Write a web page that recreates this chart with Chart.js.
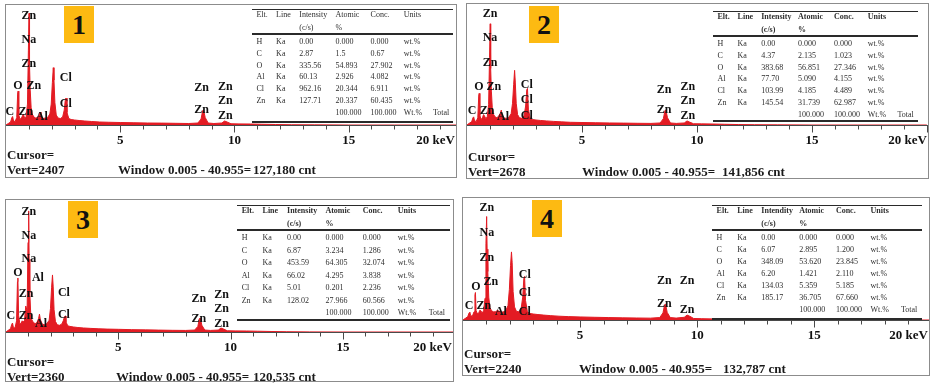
<!DOCTYPE html>
<html>
<head>
<meta charset="utf-8">
<script src="https://cdn.jsdelivr.net/npm/chart.js@4.4.0/dist/chart.umd.min.js"></script>
<style>
  body { margin: 0; background: #fff; width: 932px; height: 386px; position: relative; overflow: hidden; font-family: "Liberation Serif", serif; }
  .panel { position: absolute; border: 1px solid #8c8c8c; box-sizing: border-box; }
  .plot { position: absolute; left: 0; top: 0; }
  .badge { position: absolute; width: 30px; height: 37px; background: #fdba12; color: #111; font: bold 28px "Liberation Serif", serif; text-align: center; line-height: 38px; }
  .txt { position: absolute; font: bold 13px "Liberation Serif", serif; color: #1a1a1a; line-height: 14px; white-space: pre; }
  .tbl { position: absolute; box-sizing: border-box; border-top: 1.5px solid #2a2a2a; border-bottom: 2px solid #2a2a2a; font: 8px "Liberation Serif", serif; color: #2e2e2e; }
  .tbl .sep { position: absolute; left: 0; right: 0; top: 23px; border-top: 2px solid #2a2a2a; }
  .tbl span { position: absolute; line-height: 10px; white-space: pre; }
  .tbl .hd { font-weight: bold; }
</style>
</head>
<body>
<script>
// energy grid (keV) shared by all four spectra
const energy = [0.00, 0.10, 0.20, 0.26, 0.29, 0.33, 0.40, 0.47, 0.51, 0.53,
  0.56, 0.62, 0.68, 0.72, 0.76, 0.82, 0.88, 0.94, 0.98, 1.01,
  1.03, 1.06, 1.10, 1.15, 1.22, 1.30, 1.38, 1.45, 1.49, 1.53,
  1.62, 1.72, 1.82, 1.92, 1.98, 2.03, 2.07, 2.10, 2.14, 2.20,
  2.28, 2.38, 2.48, 2.55, 2.60, 2.63, 2.67, 2.75, 2.85, 3.00,
  3.20, 3.45, 3.75, 4.10, 4.50, 5.00, 5.60, 6.20, 6.80, 7.40,
  8.00, 8.40, 8.54, 8.61, 8.65, 8.72, 8.85, 9.10, 9.45, 9.57,
  9.68, 9.85, 10.2, 10.7, 11.2, 11.8, 12.5, 13.5, 15.0, 17.0, 20.0];

// counts per channel
const counts1 = [0, 30, 60, 150, 170, 80, 70, 150, 620, 680,
  200, 110, 150, 180, 220, 130, 160, 420, 1500, 2240,
  1200, 700, 350, 220, 160, 140, 150, 200, 260, 180,
  130, 140, 150, 220, 420, 850, 1150, 900, 450, 200,
  140, 130, 160, 300, 520, 540, 250, 130, 110, 100,
  90, 80, 70, 60, 55, 50, 45, 40, 38, 34,
  30, 40, 120, 290, 300, 150, 40, 30, 40, 80,
  60, 25, 22, 20, 15, 10, 5, 3, 0, 0, 0];
const counts2 = [0, 40, 70, 160, 180, 90, 80, 160, 640, 700,
  210, 120, 170, 230, 200, 140, 180, 450, 1500, 2240,
  1250, 750, 380, 240, 180, 160, 200, 260, 330, 220,
  150, 150, 170, 250, 480, 900, 1210, 950, 480, 230,
  160, 150, 200, 420, 780, 810, 350, 150, 120, 110,
  100, 90, 80, 70, 60, 55, 50, 45, 42, 38,
  35, 45, 140, 320, 330, 160, 45, 35, 45, 90,
  65, 28, 25, 22, 16, 10, 6, 3, 0, 0, 0];
const counts3 = [0, 30, 60, 140, 160, 80, 70, 200, 900, 965,
  300, 140, 160, 200, 180, 200, 465, 380, 1600, 2165,
  1300, 700, 330, 220, 170, 150, 170, 240, 320, 220,
  140, 130, 150, 210, 420, 800, 1020, 820, 400, 190,
  130, 120, 140, 200, 270, 285, 180, 110, 100, 90,
  80, 72, 65, 58, 52, 48, 42, 38, 34, 30,
  28, 35, 100, 240, 250, 120, 35, 28, 35, 70,
  55, 22, 20, 18, 14, 9, 5, 2, 0, 0, 0];
const counts4 = [0, 30, 60, 130, 145, 80, 70, 150, 460, 505,
  170, 110, 140, 180, 170, 130, 170, 400, 1400, 1900,
  1300, 890, 420, 230, 170, 150, 150, 170, 180, 160,
  140, 150, 170, 260, 560, 1000, 1250, 1050, 520, 240,
  160, 150, 200, 420, 770, 800, 360, 150, 120, 110,
  100, 90, 80, 70, 62, 56, 50, 45, 40, 37,
  34, 45, 130, 280, 290, 140, 45, 35, 50, 90,
  70, 28, 24, 20, 15, 10, 6, 3, 0, 0, 0];

const vertScale = [2407, 2678, 2360, 2240];
const totalCounts = ['127,180', '141,856', '120,535', '132,787'];
const majorTicks = [5, 10, 15, 20];

// peak labels: [element, keV, counts]
const peaks1 = [['Zn', 1.0, 2190], ['Na', 1.0, 1710], ['Zn', 1.0, 1235], ['O', 0.52, 775], ['Zn', 1.22, 775],
  ['C', 0.17, 260], ['Zn', 0.87, 260], ['Al', 1.57, 160], ['Cl', 2.62, 935], ['Cl', 2.62, 420],
  ['Zn', 8.56, 735], ['Zn', 8.56, 300], ['Zn', 9.6, 755], ['Zn', 9.6, 480], ['Zn', 9.6, 180]];
const peaks2 = [['Zn', 1.0, 2460], ['Na', 1.0, 1930], ['Zn', 1.0, 1380], ['O', 0.52, 835], ['Zn', 1.17, 835],
  ['C', 0.22, 307], ['Zn', 0.87, 307], ['Al', 1.57, 175], ['Cl', 2.6, 880], ['Cl', 2.6, 550], ['Cl', 2.6, 200],
  ['Zn', 8.57, 770], ['Zn', 8.57, 330], ['Zn', 9.6, 835], ['Zn', 9.6, 530], ['Zn', 9.6, 200]];
const peaks3 = [['Zn', 1.02, 2150], ['Na', 1.02, 1720], ['Na', 1.02, 1305], ['O', 0.53, 1055], ['Al', 1.42, 965],
  ['Zn', 0.89, 680], ['C', 0.22, 285], ['Zn', 0.89, 285], ['Al', 1.56, 140], ['Cl', 2.58, 700], ['Cl', 2.58, 305],
  ['Zn', 8.58, 590], ['Zn', 8.58, 230], ['Zn', 9.6, 660], ['Zn', 9.6, 410], ['Zn', 9.6, 145]];
const peaks4 = [['Zn', 1.02, 2065], ['Na', 1.02, 1595], ['Zn', 1.02, 1140], ['O', 0.55, 615], ['Zn', 1.19, 705],
  ['C', 0.26, 255], ['Zn', 0.89, 255], ['Al', 1.62, 145], ['Cl', 2.64, 830], ['Cl', 2.64, 490], ['Cl', 2.64, 145],
  ['Zn', 8.6, 725], ['Zn', 9.57, 725], ['Zn', 8.6, 290], ['Zn', 9.57, 180]];

// quantification tables
const elements = ['H', 'C', 'O', 'Al', 'Cl', 'Zn'];
const intensity1 = ['0.00', '2.87', '335.56', '60.13', '962.16', '127.71'];
const atomic1 = ['0.000', '1.5', '54.893', '2.926', '20.344', '20.337'];
const conc1 = ['0.000', '0.67', '27.902', '4.082', '6.911', '60.435'];
const intensity2 = ['0.00', '4.37', '383.68', '77.70', '103.99', '145.54'];
const atomic2 = ['0.000', '2.135', '56.851', '5.090', '4.185', '31.739'];
const conc2 = ['0.000', '1.023', '27.346', '4.155', '4.489', '62.987'];
const intensity3 = ['0.00', '6.87', '453.59', '66.02', '5.01', '128.02'];
const atomic3 = ['0.000', '3.234', '64.305', '4.295', '0.201', '27.966'];
const conc3 = ['0.000', '1.286', '32.074', '3.838', '2.236', '60.566'];
const intensity4 = ['0.00', '6.07', '348.09', '6.20', '134.03', '185.17'];
const atomic4 = ['0.000', '2.895', '53.620', '1.421', '5.359', '36.705'];
const conc4 = ['0.000', '1.200', '23.845', '2.110', '5.185', '67.660'];
const intensityHead = ['Intensity', 'Intensity', 'Intensity', 'Intendity'];

// panel boxes; tbl = [left, top, width, height, rowH], cur = [top, windowLeft, cntLeft]
const panels = [
  { left: 5, top: 4, w: 452, h: 174, base: 120, xMax: 19.7, badge: [58, 1], tbl: [246, 4, 201, 114, 11.8], boldHead: false, cur: [143, 112, 247] },
  { left: 466, top: 3, w: 463, h: 176, base: 121, xMax: 20.05, badge: [62, 2], tbl: [246, 7, 205, 111, 11.8], boldHead: true, cur: [146, 115, 255] },
  { left: 5, top: 199, w: 449, h: 183, base: 132, xMax: 19.9, badge: [62, 1], tbl: [231, 5, 213, 116, 12.5], boldHead: true, cur: [155, 110, 247] },
  { left: 462, top: 197, w: 468, h: 179, base: 122, xMax: 19.9, badge: [69, 2], tbl: [249, 7, 210, 115, 12], boldHead: true, cur: [149, 116, 260] }
];
const colFrac = [0.022, 0.12, 0.235, 0.415, 0.59, 0.755, 0.9];

const countSets = [counts1, counts2, counts3, counts4];
const peakSets = [peaks1, peaks2, peaks3, peaks4];
const tableSets = [[intensity1, atomic1, conc1], [intensity2, atomic2, conc2], [intensity3, atomic3, conc3], [intensity4, atomic4, conc4]];

// axis line, keV ticks and the element markers
const edxDecor = {
  id: 'edxDecor',
  afterDatasetsDraw(chart, args, opts) {
    const { ctx, chartArea, scales: { x, y } } = chart;
    ctx.save();
    const yb = Math.round(chartArea.bottom) + 0.5;
    ctx.strokeStyle = '#4a4a4a';
    ctx.lineWidth = 1;
    ctx.beginPath();
    ctx.moveTo(chartArea.left, yb);
    ctx.lineTo(chartArea.right, yb);
    for (let k = 1; k <= Math.floor(x.max); k++) {
      const px = Math.round(x.getPixelForValue(k)) + 0.5;
      ctx.moveTo(px, yb);
      ctx.lineTo(px, yb + (k % 5 === 0 ? 7 : 4));
    }
    ctx.stroke();

    ctx.fillStyle = '#111';
    ctx.font = 'bold 13px "Liberation Serif"';
    ctx.textBaseline = 'middle';
    majorTicks.forEach((v, i) => {
      const last = i === majorTicks.length - 1;
      ctx.textAlign = last ? 'right' : 'center';
      const px = last ? chartArea.right - 1 : x.getPixelForValue(v);
      ctx.fillText(last ? v + ' keV' : String(v), px, yb + 15);
    });

    ctx.font = 'bold 12px "Liberation Serif"';
    ctx.textAlign = 'center';
    opts.labels.forEach(([t, e, c]) => ctx.fillText(t, x.getPixelForValue(e), y.getPixelForValue(c)));
    ctx.restore();
  }
};

function el(tag, cls, parent, css, text) {
  const d = document.createElement(tag);
  if (cls) d.className = cls;
  Object.assign(d.style, css || {});
  if (text !== undefined) d.textContent = text;
  parent.appendChild(d);
  return d;
}

panels.forEach((p, n) => {
  const box = el('div', 'panel', document.body, { left: p.left + 'px', top: p.top + 'px', width: p.w + 'px', height: p.h + 'px' });
  const innerW = p.w - 2;

  const wrap = el('div', 'plot', box, { width: innerW + 'px', height: (p.base + 24) + 'px' });
  const canvas = el('canvas', null, wrap);

  new Chart(canvas, {
    type: 'line',
    data: {
      datasets: [{
        data: energy.map((e, i) => ({ x: e, y: countSets[n][i] })),
        borderColor: '#e31b23',
        backgroundColor: '#e31b23',
        borderWidth: 1,
        pointRadius: 0,
        fill: 'origin',
        tension: 0
      }]
    },
    options: {
      responsive: true,
      maintainAspectRatio: false,
      animation: false,
      layout: { padding: { left: 0, right: 0, top: 0, bottom: 24 } },
      plugins: {
        legend: { display: false },
        tooltip: { enabled: false },
        edxDecor: { labels: peakSets[n] }
      },
      scales: {
        x: { type: 'linear', min: 0, max: p.xMax, display: false },
        y: { min: 0, max: vertScale[n], display: false }
      }
    },
    plugins: [edxDecor]
  });

  el('div', 'badge', box, { left: p.badge[0] + 'px', top: p.badge[1] + 'px' }, String(n + 1));

  // quantification table
  const [tl, tt, tw, th, rh] = p.tbl;
  const tbl = el('div', 'tbl', box, { left: tl + 'px', top: tt + 'px', width: tw + 'px', height: th + 'px' });
  el('div', 'sep', tbl);
  const cell = (text, col, cy, head) =>
    el('span', head && p.boldHead ? 'hd' : null, tbl, { left: (colFrac[col] * tw) + 'px', top: (cy - 5) + 'px' }, text);
  ['Elt.', 'Line', intensityHead[n], 'Atomic', 'Conc.', 'Units'].forEach((t, c) => cell(t, c, 5, true));
  cell('(c/s)', 2, 17.5, true);
  cell('%', 3, 17.5, true);
  const [inten, atom, conc] = tableSets[n];
  elements.forEach((e, i) => {
    const cy = 32 + i * rh;
    [e, 'Ka', inten[i], atom[i], conc[i], 'wt.%'].forEach((t, c) => cell(t, c, cy, false));
  });
  const ty = 32 + elements.length * rh;
  ['100.000', '100.000', 'Wt.%', 'Total'].forEach((t, c) => cell(t, c + 3, ty, false));

  // cursor readout
  el('div', 'txt', box, { left: '1px', top: p.cur[0] + 'px' }, 'Cursor=');
  el('div', 'txt', box, { left: '1px', top: (p.cur[0] + 15) + 'px' }, 'Vert=' + vertScale[n]);
  el('div', 'txt', box, { left: p.cur[1] + 'px', top: (p.cur[0] + 15) + 'px' }, 'Window 0.005 - 40.955=');
  el('div', 'txt', box, { left: p.cur[2] + 'px', top: (p.cur[0] + 15) + 'px' }, totalCounts[n] + ' cnt');
});
</script>
</body>
</html>
